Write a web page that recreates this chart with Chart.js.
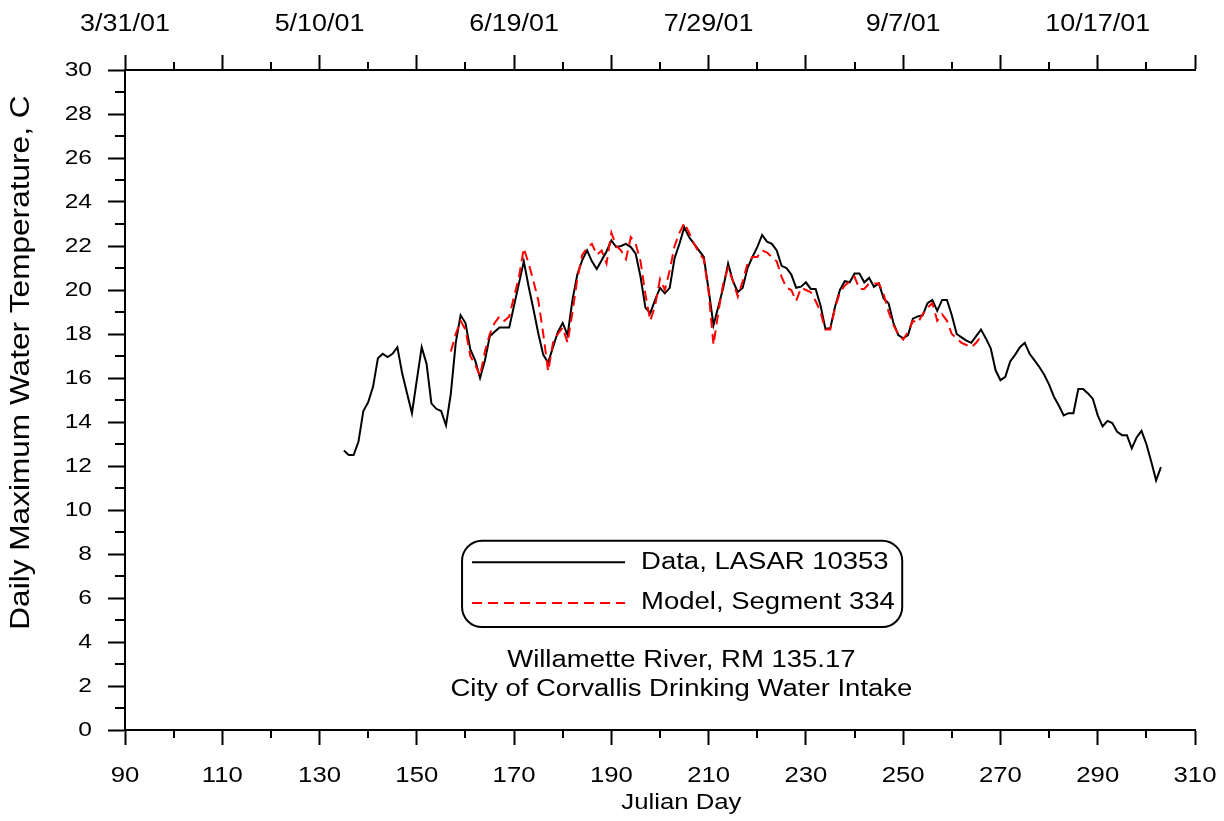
<!DOCTYPE html>
<html><head><meta charset="utf-8">
<script src="https://cdn.jsdelivr.net/npm/chart.js@4.4.1/dist/chart.umd.min.js"></script>
<style>html,body{margin:0;padding:0;background:#fff;}</style>
</head><body>
<canvas id="c" width="1224" height="821"></canvas>
<script>
const dataDays = [135,136,137,138,139,140,141,142,143,144,145,146,147,148,149,150,151,152,153,154,155,156,157,158,159,160,161,162,163,164,165,166,167,168,169,170,171,172,173,174,175,176,177,178,179,180,181,182,183,184,185,186,187,188,189,190,191,192,193,194,195,196,197,198,199,200,201,202,203,204,205,206,207,208,209,210,211,212,213,214,215,216,217,218,219,220,221,222,223,224,225,226,227,228,229,230,231,232,233,234,235,236,237,238,239,240,241,242,243,244,245,246,247,248,249,250,251,252,253,254,255,256,257,258,259,260,261,262,263,264,265,266,267,268,269,270,271,272,273,274,275,276,277,278,279,280,281,282,283,284,285,286,287,288,289,290,291,292,293,294,295,296,297,298,299,300,301,302,303];
const dataTemps = [12.7,12.5,12.5,13.1,14.5,14.9,15.6,16.9,17.1,16.95,17.1,17.4,16.2,15.3,14.4,15.9,17.4,16.65,14.85,14.6,14.5,13.85,15.3,17.6,18.85,18.5,17.3,16.8,16.0,16.8,17.9,18.1,18.3,18.3,18.3,19.3,20.3,21.3,20.15,19.1,18.0,17.05,16.7,17.4,18.1,18.5,17.95,19.55,20.7,21.35,21.8,21.3,20.95,21.35,21.75,22.25,21.95,22.0,22.1,21.95,21.65,20.6,19.2,18.95,19.55,20.1,19.85,20.1,21.45,22.1,22.85,22.4,22.1,21.8,21.5,20.0,18.4,19.25,20.1,21.2,20.4,19.9,20.1,21.0,21.5,21.95,22.5,22.2,22.1,21.8,21.1,21.0,20.7,20.1,20.15,20.35,20.05,20.05,19.3,18.25,18.25,19.25,20.0,20.4,20.35,20.75,20.75,20.35,20.55,20.15,20.3,19.6,19.4,18.5,17.95,17.8,17.95,18.7,18.8,18.85,19.4,19.55,19.05,19.55,19.55,18.85,18.0,17.85,17.7,17.6,17.9,18.2,17.8,17.35,16.35,15.9,16.05,16.75,17.05,17.4,17.6,17.1,16.8,16.5,16.15,15.7,15.15,14.75,14.3,14.4,14.4,15.5,15.5,15.3,15.05,14.3,13.8,14.05,13.95,13.55,13.4,13.4,12.8,13.3,13.6,13.0,12.2,11.35,11.95];
const modelDays = [157,158,159,160,161,162,163,164,165,166,167,168,169,170,171,172,173,174,175,176,177,178,179,180,181,182,183,184,185,186,187,188,189,190,191,192,193,194,195,196,197,198,199,200,201,202,203,204,205,206,207,208,209,210,211,212,213,214,215,216,217,218,219,220,221,222,223,224,225,226,227,228,229,230,231,232,233,234,235,236,237,238,239,240,241,242,243,244,245,246,247,248,249,250,251,252,253,254,255,256,257,258,259,260,261,262,263,264,265,266];
const modelTemps = [17.2,18.0,18.6,18.2,17.0,16.6,16.1,17.2,18.0,18.5,18.8,18.6,18.8,19.7,20.6,21.9,21.2,20.4,19.5,18.0,16.3,17.6,18.0,18.3,17.6,19.0,20.5,21.6,21.9,22.1,21.6,21.8,21.2,22.6,22.0,21.8,21.4,22.4,22.1,21.3,19.8,18.6,19.3,20.5,20.0,20.9,22.0,22.6,23.05,22.6,22.1,21.7,21.4,19.9,17.5,19.0,20.3,21.0,20.4,19.7,20.4,21.2,21.5,21.5,21.8,21.7,21.5,21.3,20.6,20.1,20.0,19.5,20.1,20.0,19.9,19.5,19.0,18.2,18.2,19.2,19.9,20.2,20.4,20.6,20.05,20.05,20.3,20.3,20.3,19.8,19.0,18.4,18.0,17.75,18.1,18.6,18.5,18.9,19.2,19.4,18.6,18.9,18.6,18.0,17.8,17.6,17.5,17.4,17.6,17.9];
const bottomTickStep = 20;
const topTickDays = [90,130,170,210,250,290];
const topTickLabels = ['3/31/01','5/10/01','6/19/01','7/29/01','9/7/01','10/17/01'];
const legendLabels = ['Data, LASAR 10353','Model, Segment 334'];
const noteLines = ['Willamette River, RM 135.17','City of Corvallis Drinking Water Intake'];
const xTitle = 'Julian Day';
const yTitle = 'Daily Maximum Water Temperature, C';

const FONT = '"Liberation Sans", Arial, sans-serif';
const SX = 1.17; // horizontal stretch of the reference typeface

const cv = document.getElementById('c');
const g = cv.getContext('2d');
const baseFill = g.fillText;
g.fillText = function (t, x, y, mw) {
  this.save(); this.translate(x, y); this.scale(SX, 1);
  baseFill.call(this, t, 0, 0);
  this.restore();
};

const minorTicks = {
  id: 'minorTicks',
  afterDraw(chart) {
    const c = chart.ctx, a = chart.chartArea;
    const xs = chart.scales.x, ys = chart.scales.y;
    c.save();
    c.strokeStyle = '#000'; c.lineWidth = 2;
    c.beginPath();
    for (let v = 100; v < 310; v += 20) {
      const px = Math.round(xs.getPixelForValue(v));
      c.moveTo(px, a.bottom); c.lineTo(px, a.bottom + 8);
      c.moveTo(px, a.top); c.lineTo(px, a.top - 8);
    }
    for (let v = 1; v < 30; v += 2) {
      const py = Math.round(ys.getPixelForValue(v));
      c.moveTo(a.left, py); c.lineTo(a.left - 10, py);
    }
    c.stroke();
    c.restore();
  }
};

const legendBox = {
  id: 'legendBox',
  afterDraw(chart) {
    const c = chart.ctx;
    const xs = chart.scales.x, ys = chart.scales.y;
    const l = xs.getPixelForValue(159.3), r = xs.getPixelForValue(249.8);
    const t = ys.getPixelForValue(8.6), b = ys.getPixelForValue(4.68);
    c.save();
    c.fillStyle = '#fff';
    c.strokeStyle = '#000'; c.lineWidth = 2;
    c.beginPath();
    c.roundRect(l, t, r - l, b - t, 20);
    c.fill(); c.stroke();
    c.font = '23.5px ' + FONT;
    c.textBaseline = 'middle';
    c.fillStyle = '#000';
    const rows = [t + (b - t) * 0.25, t + (b - t) * 0.72];
    chart.data.datasets.forEach((ds, i) => {
      c.beginPath();
      c.strokeStyle = ds.borderColor;
      c.lineWidth = 2;
      c.setLineDash(ds.borderDash || []);
      c.moveTo(l + 10, rows[i]); c.lineTo(l + 163, rows[i]);
      c.stroke();
      c.setLineDash([]);
      c.fillText(ds.label, l + 179, rows[i]);
    });
    c.textAlign = 'center';
    const cx = xs.getPixelForValue(204.4);
    c.fillText(noteLines[0], cx, ys.getPixelForValue(3.18));
    c.fillText(noteLines[1], cx, ys.getPixelForValue(1.82));
    // axis titles
    c.font = '22px ' + FONT;
    c.fillText(xTitle, cx, chart.height - 18);
    c.save();
    c.translate(22, ys.getPixelForValue(16.7));
    c.rotate(-Math.PI / 2);
    c.font = '27px ' + FONT;
    c.fillText(yTitle, 0, 0);
    c.restore();
    c.restore();
  }
};

const gridCfg = (len) => ({display: true, drawOnChartArea: false, drawTicks: true, tickLength: len, tickColor: '#000', tickWidth: 2, color: '#000'});
const noSidePad = (h) => (s) => { s.height = h; s.paddingLeft = 0; s.paddingRight = 0; };

new Chart(cv, {
  type: 'line',
  data: {
    datasets: [
      {label: legendLabels[0], data: dataDays.map((d, i) => ({x: d, y: dataTemps[i]})), borderColor: '#000000', borderWidth: 2, pointRadius: 0, tension: 0, order: 1, xAxisID: 'x', yAxisID: 'y'},
      {label: legendLabels[1], data: modelDays.map((d, i) => ({x: d, y: modelTemps[i]})), borderColor: '#ff0000', borderDash: [10, 6], borderWidth: 2, pointRadius: 0, tension: 0, order: 0, xAxisID: 'x', yAxisID: 'y'}
    ]
  },
  options: {
    responsive: false, animation: false, devicePixelRatio: 1,
    layout: {padding: {left: 0, right: 29, top: 0, bottom: 0}},
    plugins: {legend: {display: false}, tooltip: {enabled: false}},
    scales: {
      x: {
        type: 'linear', position: 'bottom', min: 90, max: 310,
        ticks: {stepSize: bottomTickStep, color: '#000', font: {family: FONT, size: 22}, padding: 18, maxRotation: 0, autoSkip: false},
        grid: gridCfg(15), border: {display: true, color: '#000', width: 2},
        afterFit: noSidePad(91)
      },
      x2: {
        type: 'linear', position: 'top', min: 90, max: 310,
        ticks: {stepSize: 20, color: '#000', font: {family: FONT, size: 23}, padding: 17, maxRotation: 0, autoSkip: false,
          callback(v) { const i = topTickDays.indexOf(v); return i >= 0 ? topTickLabels[i] : ''; }},
        grid: gridCfg(15), border: {display: true, color: '#000', width: 2},
        afterFit: noSidePad(70)
      },
      y: {
        min: 0, max: 30,
        ticks: {stepSize: 2, color: '#000', font: {family: FONT, size: 21}, padding: 16},
        grid: gridCfg(17), border: {display: true, color: '#000', width: 2},
        afterFit(s) { s.width = 125; }
      }
    }
  },
  plugins: [minorTicks, legendBox]
});
</script>
</body></html>
